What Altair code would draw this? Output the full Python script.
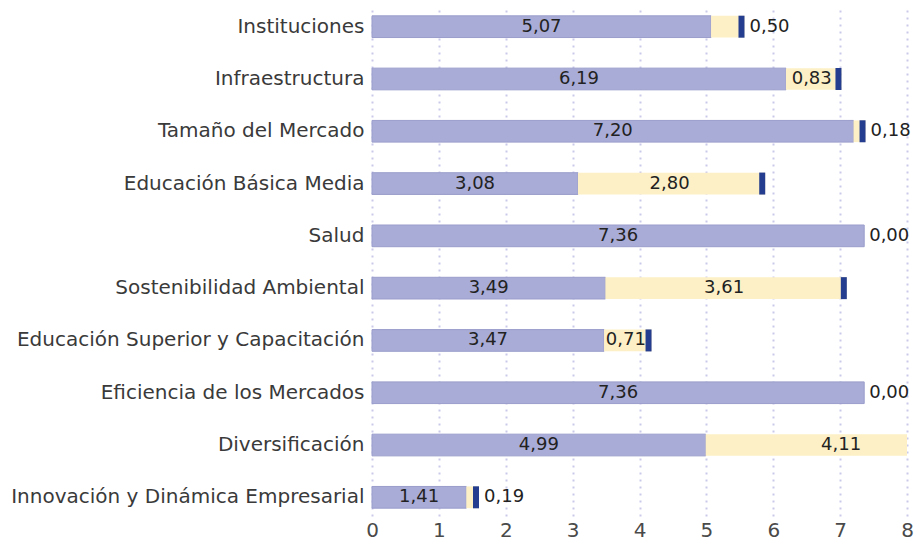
import altair as alt
import pandas as pd

categorias = [
    "Instituciones",
    "Infraestructura",
    "Tamaño del Mercado",
    "Educación Básica Media",
    "Salud",
    "Sostenibilidad Ambiental",
    "Educación Superior y Capacitación",
    "Eficiencia de los Mercados",
    "Diversificación",
    "Innovación y Dinámica Empresarial",
]
actual = [5.07, 6.19, 7.20, 3.08, 7.36, 3.49, 3.47, 7.36, 4.99, 1.41]
brecha = [0.50, 0.83, 0.18, 2.80, 0.00, 3.61, 0.71, 0.00, 4.11, 0.19]
x_ticks = [0, 1, 2, 3, 4, 5, 6, 7, 8]

df = pd.DataFrame({"cat": categorias, "actual": actual, "brecha": brecha})

FONT = "DejaVu Sans"
PURPLE = "#a9acd6"
YELLOW = "#fdf0c6"
MARK = "#243d8e"

y_enc = alt.Y(
    "cat:N",
    sort=categorias,
    scale=alt.Scale(paddingInner=0.585, paddingOuter=0.15),
    axis=alt.Axis(
        title=None, domain=False, ticks=False, grid=False,
        labelFont=FONT, labelFontSize=20, labelFontWeight="normal",
        labelColor="#3a3a3a", labelPadding=8, labelLimit=400,
    ),
)
x_scale = alt.Scale(domain=[0, 8], nice=False)
x_axis = alt.Axis(
    title=None, domain=False, ticks=False, values=x_ticks, format="d",
    grid=True, gridColor="#c9c9ea", gridDash=[2, 5], gridWidth=2,
    labelFont=FONT, labelFontSize=20, labelFontWeight="normal",
    labelColor="#4a4a4a", labelPadding=4, labelFlush=False,
)

base = alt.Chart(df).transform_calculate(
    total="datum.actual + datum.brecha",
    mid_a="datum.actual / 2",
    mid_b="datum.actual + datum.brecha / 2",
    lab_a="replace(format(datum.actual, '.2f'), '.', ',')",
    lab_b="replace(format(datum.brecha, '.2f'), '.', ',')",
)

bar_a = base.mark_bar(color=PURPLE, stroke="#9a9dcb", strokeWidth=1).encode(
    x=alt.X("actual:Q", scale=x_scale, axis=x_axis), y=y_enc
)
bar_b = base.mark_bar(color=YELLOW, clip=True).encode(
    x=alt.X("actual:Q", scale=x_scale), x2="total:Q", y=y_enc
)
marker = base.transform_filter("datum.brecha > 0").mark_tick(
    color=MARK, thickness=6, size=22, xOffset=-3, clip=True, opacity=1
).encode(x=alt.X("total:Q", scale=x_scale), y=y_enc)

txt_style = dict(font=FONT, fontSize=18, color="#222222", baseline="middle")
text_a = base.mark_text(align="center", **txt_style).encode(
    x=alt.X("mid_a:Q", scale=x_scale), y=y_enc, text="lab_a:N"
)
text_b_in = base.transform_filter("datum.brecha >= 0.6").mark_text(
    align="center", dx=-2, **txt_style
).encode(x=alt.X("mid_b:Q", scale=x_scale), y=y_enc, text="lab_b:N")
text_b_out = base.transform_filter("datum.brecha < 0.6").mark_text(
    align="left", dx=5, **txt_style
).encode(x=alt.X("total:Q", scale=x_scale), y=y_enc, text="lab_b:N")

chart = (
    alt.layer(bar_a, bar_b, marker, text_a, text_b_in, text_b_out)
    .properties(
        width=535, height=508,
        autosize=alt.AutoSizeParams(type="none"),
        padding={"left": 364, "top": 0, "right": 8, "bottom": 26},
    )
    .configure_view(stroke=None)
)

chart.save("out.html", embed_options={"renderer": "svg", "actions": False})
